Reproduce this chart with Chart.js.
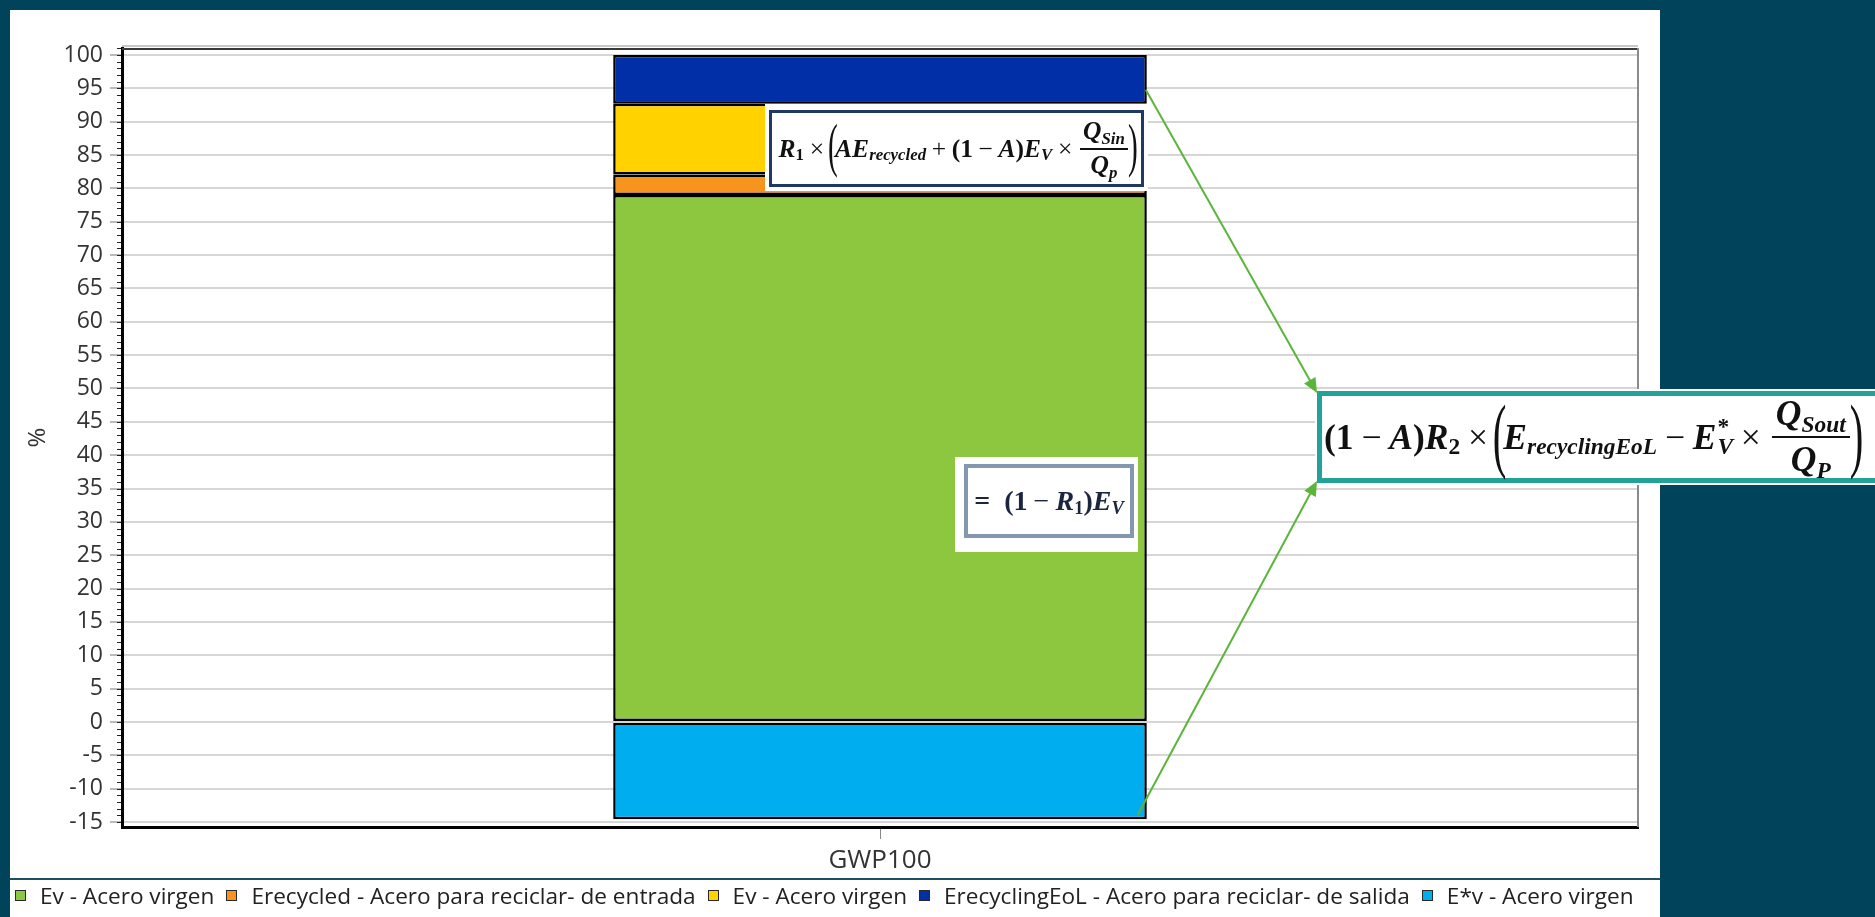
<!DOCTYPE html>
<html>
<head>
<meta charset="utf-8">
<script src="https://cdn.jsdelivr.net/npm/chart.js@4/dist/chart.umd.min.js"></script>
<style>
  html, body { margin: 0; padding: 0; background: #01435a; overflow: hidden; }
  #wrap { position: relative; width: 1875px; height: 917px; }
  #gwpChart { position: absolute; left: 0; top: 0; }
  .ftext {
    position: absolute;
    display: flex;
    align-items: center;
    justify-content: center;
    font-family: "Liberation Serif", "DejaVu Serif", serif;
    font-weight: bold;
    color: #111;
    white-space: nowrap;
  }
  .ftext i { font-style: italic; }
  .ftext sub { font-size: 0.66em; position: relative; top: 0.38em; vertical-align: baseline; line-height: 0; }
  .op { margin: 0 0.22em; font-weight: normal; }
  .bp { font-weight: normal; font-size: 2.3em; line-height: 1; display: inline-block; transform: scaleX(0.5); margin: 0 -0.12em; position: relative; top: -0.03em; }
  .fr { display: inline-flex; flex-direction: column; align-items: center; vertical-align: middle; margin: 0 0.08em; }
  .fr .n { border-bottom: 2px solid currentColor; padding: 0 0.12em 0.1em; line-height: 1.05; }
  .fr .d { line-height: 1.1; padding-top: 0.05em; }
  .fr sub { top: 0.3em; }
  .ss { display: inline-flex; flex-direction: column; vertical-align: -0.32em; line-height: 0.85; font-size: 0.66em; margin-left: 1px; }
  #legend {
    position: absolute; left: 15px; top: 881px; height: 28px;
    display: flex; align-items: center;
    font-family: "Open Sans", sans-serif; font-size: 22.6px; color: #222; white-space: nowrap;
  }
  #legend .item { display: flex; align-items: center; margin-right: 12px; }
  #legend .sw { width: 9px; height: 9px; border: 1.5px solid #2a2a2a; margin-right: 14px; }
</style>
</head>
<body>
<div id="wrap">
  <canvas id="gwpChart" width="1875" height="917"></canvas>

  <div class="ftext" id="f1" style="left:770px;top:112px;width:374px;height:73px;font-size:25.5px;">
    <i>R</i><sub>1</sub><span class="op">×</span><span class="bp">(</span><i>AE</i><sub><i>recycled</i></sub><span class="op">+</span>(1<span class="op">−</span><i>A</i>)<i>E</i><sub><i>V</i></sub><span class="op">×</span><span class="fr"><span class="n"><i>Q</i><sub><i>Sin</i></sub></span><span class="d"><i>Q</i><sub><i>p</i></sub></span></span><span class="bp">)</span>
  </div>

  <div class="ftext" id="f2" style="left:966px;top:466px;width:166px;height:70px;font-size:28px;color:#1a2540;">
    =&nbsp;&nbsp;(1<span class="op">−</span><i>R</i><sub>1</sub>)<i>E</i><sub><i>V</i></sub>
  </div>

  <div class="ftext" id="f3" style="left:1320px;top:394px;width:555px;height:86px;font-size:35.5px;justify-content:flex-start;padding-left:4px;box-sizing:border-box;">
    (1<span class="op">−</span><i>A</i>)<i>R</i><sub>2</sub><span class="op">×</span><span class="bp">(</span><i>E</i><sub><i>recyclingEoL</i></sub><span class="op">−</span><i>E</i><span class="ss"><span>*</span><i>V</i></span><span class="op">×</span><span class="fr"><span class="n"><i>Q</i><sub><i>Sout</i></sub></span><span class="d"><i>Q</i><sub><i>P</i></sub></span></span><span class="bp">)</span>
  </div>

  <div id="legend"></div>
</div>

<script>
  var categories = ['GWP100'];
  var seriesNames = [
    'Ev - Acero virgen',
    'Erecycled - Acero para reciclar- de entrada',
    'Ev - Acero virgen',
    'ErecyclingEoL - Acero para reciclar- de salida',
    'E*v - Acero virgen'
  ];
  var evVirgen = [79.0];
  var eRecycled = [3.1];
  var evVirgenInput = [10.6];
  var eRecyclingEoL = [7.3];
  var eStarVirgen = [-14.6];
  var yTicks = [-15, -10, -5, 0, 5, 10, 15, 20, 25, 30, 35, 40, 45, 50, 55, 60, 65, 70, 75, 80, 85, 90, 95, 100];
  // where the green arrows leave the bar (in % units)
  var arrowFrom = [94.8, -13.9];

  var seriesColors = ['#8dc63f', '#f7941d', '#ffd200', '#002fa7', '#00adef'];
  var seriesData = [evVirgen, eRecycled, evVirgenInput, eRecyclingEoL, eStarVirgen];

  var panel = { x: 10, y: 10, w: 1650, h: 907 };
  var boxes = [
    { x: 765, y: 104, w: 383, h: 87, fx: 769, fy: 110, fw: 375, fh: 77, lw: 3, color: '#1f3864' },
    { x: 955, y: 457, w: 183, h: 95, fx: 964, fy: 464, fw: 170, fh: 74, lw: 4, color: '#8497b0' },
    { x: 1315, y: 389, w: 560, h: 96, fx: 1317, fy: 391, fw: 600, fh: 92, lw: 5, color: '#22a298' }
  ];

  function buildLegend(){
    var el = document.getElementById('legend');
    el.innerHTML = seriesNames.map(function(name, i){
      return '<div class="item"><span class="sw" style="background:' + seriesColors[i] + '"></span><span>' + name + '</span></div>';
    }).join('');
  }

  var backdrop = {
    id: 'backdrop',
    beforeDraw: function(chart){
      var ctx = chart.ctx;
      ctx.save();
      ctx.fillStyle = '#01435a';
      ctx.fillRect(0, 0, chart.width, chart.height);
      ctx.fillStyle = '#ffffff';
      ctx.fillRect(panel.x, panel.y, panel.w, panel.h);
      // rule above the legend
      ctx.strokeStyle = '#1d4e62';
      ctx.lineWidth = 2;
      ctx.beginPath();
      ctx.moveTo(panel.x, 879);
      ctx.lineTo(panel.x + panel.w, 879);
      ctx.stroke();
      ctx.restore();
    },
    beforeDatasetsDraw: function(chart){
      var ctx = chart.ctx, a = chart.chartArea, y = chart.scales.y;
      ctx.save();
      // frame on top and right
      ctx.strokeStyle = '#c8c8c8';
      ctx.lineWidth = 2;
      ctx.beginPath();
      ctx.moveTo(a.left, a.top - 2);
      ctx.lineTo(a.right, a.top - 2);
      ctx.stroke();
      ctx.strokeStyle = '#3a3a3a';
      ctx.lineWidth = 2;
      ctx.beginPath();
      ctx.moveTo(a.left, a.top + 1);
      ctx.lineTo(a.right, a.top + 1);
      ctx.stroke();
      ctx.strokeStyle = '#8a8a8a';
      ctx.lineWidth = 2;
      ctx.beginPath();
      ctx.moveTo(a.right, a.top);
      ctx.lineTo(a.right, a.bottom);
      ctx.stroke();
      // minor ticks every 1 %
      ctx.strokeStyle = '#222';
      ctx.lineWidth = 1;
      for (var v = Math.ceil(y.min); v <= Math.floor(y.max); v++){
        var py = Math.round(y.getPixelForValue(v)) + 0.5;
        ctx.beginPath();
        ctx.moveTo(a.left - 5, py);
        ctx.lineTo(a.left - 1, py);
        ctx.stroke();
      }
      ctx.restore();
    },
    afterDraw: function(chart){
      var ctx = chart.ctx, y = chart.scales.y;
      ctx.save();
      boxes.forEach(function(b){
        ctx.fillStyle = '#ffffff';
        ctx.fillRect(b.x, b.y, b.w, b.h);
        ctx.strokeStyle = b.color;
        ctx.lineWidth = b.lw;
        ctx.strokeRect(b.fx + b.lw / 2, b.fy + b.lw / 2, b.fw - b.lw, b.fh - b.lw);
      });
      var bar = chart.getDatasetMeta(3).data[0];
      var bx = bar.x + bar.width / 2 - 1;
      var target = boxes[2];
      drawArrow(ctx, bx, y.getPixelForValue(arrowFrom[0]), target.x + 2, target.y + 4);
      drawArrow(ctx, bx - 8, y.getPixelForValue(arrowFrom[1]), target.x + 2, target.y + target.h - 4);
      ctx.restore();
    }
  };

  function drawArrow(ctx, x0, y0, x1, y1){
    var ang = Math.atan2(y1 - y0, x1 - x0);
    var len = 16, half = 0.42;
    ctx.strokeStyle = '#5bb53a';
    ctx.fillStyle = '#5bb53a';
    ctx.lineWidth = 2;
    ctx.beginPath();
    ctx.moveTo(x0, y0);
    ctx.lineTo(x1 - Math.cos(ang) * len * 0.8, y1 - Math.sin(ang) * len * 0.8);
    ctx.stroke();
    ctx.beginPath();
    ctx.moveTo(x1, y1);
    ctx.lineTo(x1 - len * Math.cos(ang - half), y1 - len * Math.sin(ang - half));
    ctx.lineTo(x1 - len * Math.cos(ang + half), y1 - len * Math.sin(ang + half));
    ctx.closePath();
    ctx.fill();
  }

  var datasets = seriesNames.map(function(name, i){
    return {
      label: name,
      data: seriesData[i],
      backgroundColor: seriesColors[i],
      borderColor: '#000000',
      borderWidth: 2.5,
      borderSkipped: false,
      categoryPercentage: 1,
      barPercentage: 0.352
    };
  });

  buildLegend();

  new Chart(document.getElementById('gwpChart'), {
    type: 'bar',
    data: { labels: categories, datasets: datasets },
    plugins: [backdrop],
    options: {
      responsive: false,
      animation: false,
      layout: { padding: { left: 4, top: 48, right: 237, bottom: 39 } },
      plugins: {
        tooltip: { enabled: false },
        legend: { display: false }
      },
      scales: {
        x: {
          stacked: true,
          afterFit: function(scale){ scale.height = 51; },
          grid: { display: true, drawOnChartArea: false, offset: false, tickLength: 12, tickColor: '#888', tickWidth: 1 },
          border: { color: '#000', width: 3 },
          ticks: { color: '#333', padding: 6, font: { family: 'Open Sans', size: 26 } }
        },
        y: {
          stacked: true,
          min: -15.75,
          max: 101.05,
          afterFit: function(scale){ scale.width = 118; },
          afterBuildTicks: function(scale){
            scale.ticks = yTicks.map(function(v){ return { value: v }; });
          },
          title: { display: true, text: '%', color: '#333', padding: { top: 20, bottom: 0 }, font: { family: 'Open Sans', size: 24 } },
          grid: { color: '#d6d6d6', lineWidth: 2, tickColor: '#777', tickWidth: 1, tickLength: 12 },
          border: { color: '#000', width: 3 },
          ticks: { color: '#333', padding: 7, font: { family: 'Open Sans', size: 23 } }
        }
      }
    }
  });
</script>
</body>
</html>
